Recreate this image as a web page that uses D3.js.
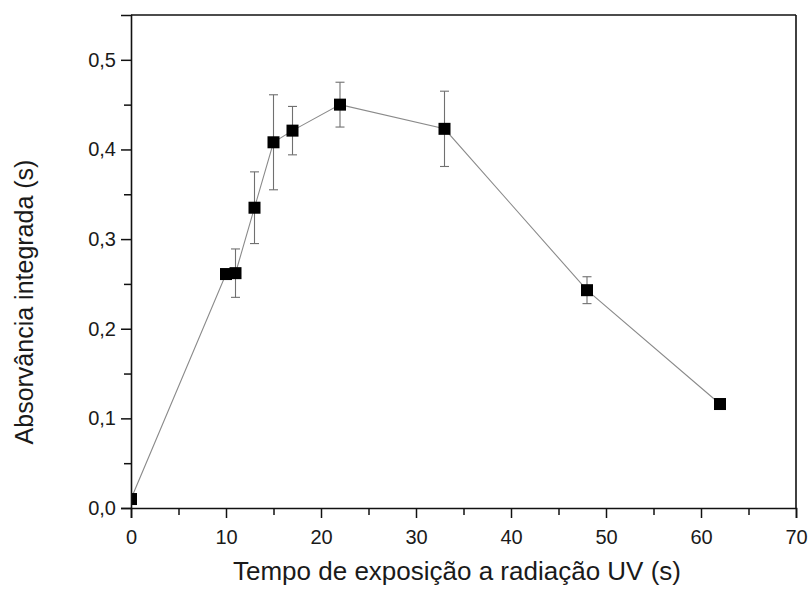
<!DOCTYPE html>
<html>
<head>
<meta charset="utf-8">
<script src="https://cdn.jsdelivr.net/npm/d3@7"></script>
<style>
  html, body { margin: 0; padding: 0; background: #fff; }
  svg { display: block; font-family: Arial, 'Liberation Sans', sans-serif; }
</style>
</head>
<body>
<div id="chart"></div>
<script>
// exposure time (s), integrated absorbance (s), std. deviation
const times = [0, 10, 11, 13, 15, 17, 22, 33, 48, 62];
const absorbance = [0.010, 0.261, 0.262, 0.335, 0.408, 0.421, 0.450, 0.423, 0.243, 0.116];
const errors = [0, 0.004, 0.027, 0.040, 0.053, 0.027, 0.025, 0.042, 0.015, 0];
const xTicks = [0, 10, 20, 30, 40, 50, 60, 70];
const yTicks = [0, 0.1, 0.2, 0.3, 0.4, 0.5];

const width = 808, height = 589;
const margin = { top: 15, right: 12, bottom: 81, left: 131 };
const w = width - margin.left - margin.right;
const h = height - margin.top - margin.bottom;

const svg = d3.select('#chart').append('svg').attr('width', width).attr('height', height);
const g = svg.append('g').attr('transform', `translate(${margin.left},${margin.top})`);

const x = d3.scaleLinear().domain([0, 70]).range([0, w]);
const y = d3.scaleLinear().domain([0, 0.55]).range([h, 0]);
const fmt = d => d3.format('.1f')(d).replace('.', ',');

g.append('clipPath').attr('id', 'clip')
  .append('rect').attr('width', w).attr('height', h);

const plot = g.append('g').attr('clip-path', 'url(#clip)');

const data = times.map((t, i) => ({ t, v: absorbance[i], e: errors[i] }));

// connecting line
plot.append('path')
  .datum(data)
  .attr('fill', 'none').attr('stroke', '#8a8a8a').attr('stroke-width', 1.1)
  .attr('d', d3.line().x(d => x(d.t)).y(d => y(d.v)));

// error bars
const eb = plot.selectAll('.eb').data(data.filter(d => d.e > 0)).join('g')
  .attr('stroke', '#707070').attr('stroke-width', 1.1);
eb.append('line')
  .attr('x1', d => x(d.t)).attr('x2', d => x(d.t))
  .attr('y1', d => y(d.v - d.e)).attr('y2', d => y(d.v + d.e));
eb.append('line')
  .attr('x1', d => x(d.t) - 4.5).attr('x2', d => x(d.t) + 4.5)
  .attr('y1', d => y(d.v + d.e)).attr('y2', d => y(d.v + d.e));
eb.append('line')
  .attr('x1', d => x(d.t) - 4.5).attr('x2', d => x(d.t) + 4.5)
  .attr('y1', d => y(d.v - d.e)).attr('y2', d => y(d.v - d.e));

// markers
const ms = 12;
plot.selectAll('.pt').data(data).join('rect')
  .attr('x', d => x(d.t) - ms / 2).attr('y', d => y(d.v) - ms / 2)
  .attr('width', ms).attr('height', ms).attr('fill', '#000');

// frame
g.append('line').attr('x1', 0).attr('x2', w).attr('y1', 0).attr('y2', 0)
  .attr('stroke', '#111').attr('stroke-width', 1.6);
g.append('line').attr('x1', w).attr('x2', w).attr('y1', 0).attr('y2', h)
  .attr('stroke', '#111').attr('stroke-width', 1.6);

// x axis with minor ticks
const xMinor = d3.axisBottom(x).tickValues(d3.range(5, 70, 10)).tickSize(7).tickFormat('');
const xMajor = d3.axisBottom(x).tickValues(xTicks).tickSize(10).tickPadding(12).tickFormat(d3.format('d'));
g.append('g').attr('transform', `translate(0,${h})`).call(xMinor)
  .call(s => s.select('.domain').remove());
const xa = g.append('g').attr('transform', `translate(0,${h})`).call(xMajor);

// y axis with minor ticks
const yMinor = d3.axisLeft(y).tickValues(d3.range(0.05, 0.55, 0.1)).tickSize(7).tickFormat('');
const yMajor = d3.axisLeft(y).tickValues(yTicks).tickSize(10).tickPadding(5).tickFormat(fmt);
g.append('g').call(yMinor).call(s => s.select('.domain').remove());
const ya = g.append('g').call(yMajor);

g.selectAll('.tick line').attr('stroke', '#111').attr('stroke-width', 1.5);
[xa, ya].forEach(a => {
  a.select('.domain').attr('stroke', '#111').attr('stroke-width', 1.6);
  a.selectAll('text').attr('font-size', 20).attr('fill', '#1a1a1a')
    .attr('font-family', "Arial, 'Liberation Sans', sans-serif");
});

// axis titles
svg.append('text')
  .attr('x', 457).attr('y', 580)
  .attr('text-anchor', 'middle').attr('font-size', 26).attr('fill', '#1a1a1a')
  .text('Tempo de exposição a radiação UV (s)');

svg.append('text')
  .attr('transform', 'translate(33,302) rotate(-90)')
  .attr('text-anchor', 'middle').attr('font-size', 25).attr('fill', '#1a1a1a')
  .text('Absorvância integrada (s)');
</script>
</body>
</html>
